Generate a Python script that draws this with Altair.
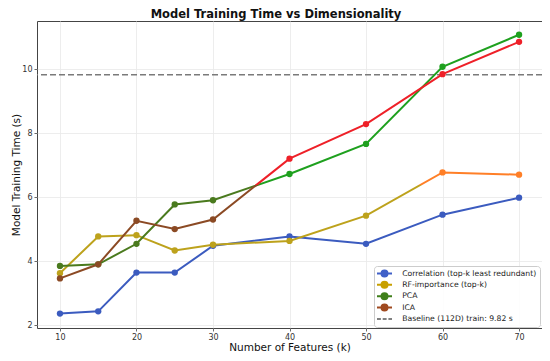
import altair as alt
import pandas as pd

# ---- data ----
k_values = [10, 15, 20, 25, 30, 40, 50, 60, 70]
corr_time = [2.36, 2.43, 3.64, 3.64, 4.48, 4.77, 4.54, 5.45, 5.98]
rf_time = [3.62, 4.77, 4.81, 4.33, 4.51, 4.63, 5.42, 6.77, 6.70]
pca_time = [3.85, 3.90, 4.54, 5.77, 5.90, 6.72, 7.66, 10.07, 11.07]
ica_time = [3.46, 3.90, 5.26, 5.00, 5.30, 7.20, 8.28, 9.84, 10.85]
baseline_time = 9.82

series_names = ["Correlation (top-k least redundant)", "RF-importance (top-k)", "PCA", "ICA"]
baseline_label = "Baseline (112D) train: 9.82 s"
series_values = [corr_time, rf_time, pca_time, ica_time]

# ---- styles ----
color_threshold = 6.37
low_colors = ["#3b5bbf", "#bda21c", "#4a7a1e", "#8b4a24"]
high_colors = ["#3b5bbf", "#ff7f27", "#1ea01e", "#ee2028"]
legend_colors = ["#4060c8", "#c8a000", "#3f7f1a", "#a04a20", "#808080"]

FONT = "DejaVu Sans"
X_DOMAIN = [7, 73]
Y_DOMAIN = [1.91, 11.5]

rows = []
for name, vals, lo, hi in zip(series_names, series_values, low_colors, high_colors):
    for kk, v in zip(k_values, vals):
        rows.append({"series": name, "k": kk, "time": v,
                     "pt_color": hi if v > color_threshold else lo})
df = pd.DataFrame(rows)

x_enc = alt.X("k:Q", scale=alt.Scale(domain=X_DOMAIN, nice=False, zero=False),
              axis=alt.Axis(values=[10, 20, 30, 40, 50, 60, 70], title="Number of Features (k)"))
y_enc = alt.Y("time:Q", scale=alt.Scale(domain=Y_DOMAIN, nice=False, zero=False),
              axis=alt.Axis(values=[2, 4, 6, 8, 10], title="Model Training Time (s)"))

layers = []
for name, vals, lo, hi in zip(series_names, series_values, low_colors, high_colors):
    vmin, vmax = min(vals), max(vals)
    frac = (color_threshold - vmin) / (vmax - vmin)
    if frac >= 1:
        stroke = lo
    else:
        frac = max(0.0, frac)
        stroke = alt.LinearGradient(
            gradient="linear", x1=0, x2=0, y1=1, y2=0,
            stops=[alt.GradientStop(offset=0, color=lo),
                   alt.GradientStop(offset=frac, color=lo),
                   alt.GradientStop(offset=frac, color=hi),
                   alt.GradientStop(offset=1, color=hi)])
    line = alt.Chart(df).transform_filter(alt.datum.series == name).mark_line(
        color=stroke, strokeWidth=2).encode(x=x_enc, y=y_enc)
    layers.append(line)

points = alt.Chart(df).mark_point(filled=True, size=40, opacity=1).encode(
    x=x_enc, y=y_enc, color=alt.Color("pt_color:N", scale=None))

base_rule = alt.Chart(pd.DataFrame({"time": [baseline_time]})).mark_rule(
    color="#7a7a7a", strokeDash=[6, 3], strokeWidth=1.4).encode(y=y_enc)

legend_entries = series_names + [baseline_label]
circle_line = "M-2.5,0L2.5,0M1,0A1,1,0,1,1,-1,0A1,1,0,1,1,1,0Z"
dash_line = "M-2.5,0L-1.2,0M-0.6,0L0.7,0M1.3,0L2.5,0"
legend_shapes = [circle_line] * 4 + [dash_line]

leg = alt.Legend(title=None, orient="none", legendX=337, legendY=245,
                 labelFont=FONT, labelFontSize=7.7, labelColor="#222",
                 symbolSize=36, symbolStrokeWidth=2, symbolOpacity=1,
                 symbolOffset=3.5, clipHeight=9,
                 rowPadding=2.35, labelOffset=13.7, padding=3,
                 fillColor="rgba(255,255,255,0.85)", strokeColor="#cccccc",
                 cornerRadius=3)
legend_layer = alt.Chart(pd.DataFrame({"entry": legend_entries})).mark_point(
    filled=True, size=0, opacity=0).encode(
    fill=alt.Fill("entry:N", scale=alt.Scale(domain=legend_entries, range=legend_colors), legend=leg),
    stroke=alt.Stroke("entry:N", scale=alt.Scale(domain=legend_entries, range=legend_colors), legend=leg),
    shape=alt.Shape("entry:N", scale=alt.Scale(domain=legend_entries, range=legend_shapes), legend=leg),
)

chart = alt.layer(base_rule, *layers, points, legend_layer).properties(
    width=505, height=307,
    title=alt.TitleParams("Model Training Time vs Dimensionality", font=FONT, fontSize=11.5,
                          fontWeight="bold", anchor="middle", dx=-13.5, offset=1, color="#111"),
    autosize=alt.AutoSizeParams(type="none"),
    padding={"left": 29, "top": 13, "right": 0, "bottom": 25},
).configure_view(stroke="#444", strokeWidth=1).configure_axis(
    domain=False, grid=True, gridColor="#e8e8e8", gridWidth=0.8,
    tickColor="#444", tickSize=3, tickWidth=0.8,
    labelFont=FONT, labelFontSize=8, labelColor="#333", labelPadding=2,
    titleFont=FONT, titleFontSize=10.5, titleFontWeight="normal", titleColor="#111",
).configure_axisX(titlePadding=1).configure_axisY(titlePadding=0)

chart.save("out.html", embed_options={"renderer": "svg", "actions": False})
